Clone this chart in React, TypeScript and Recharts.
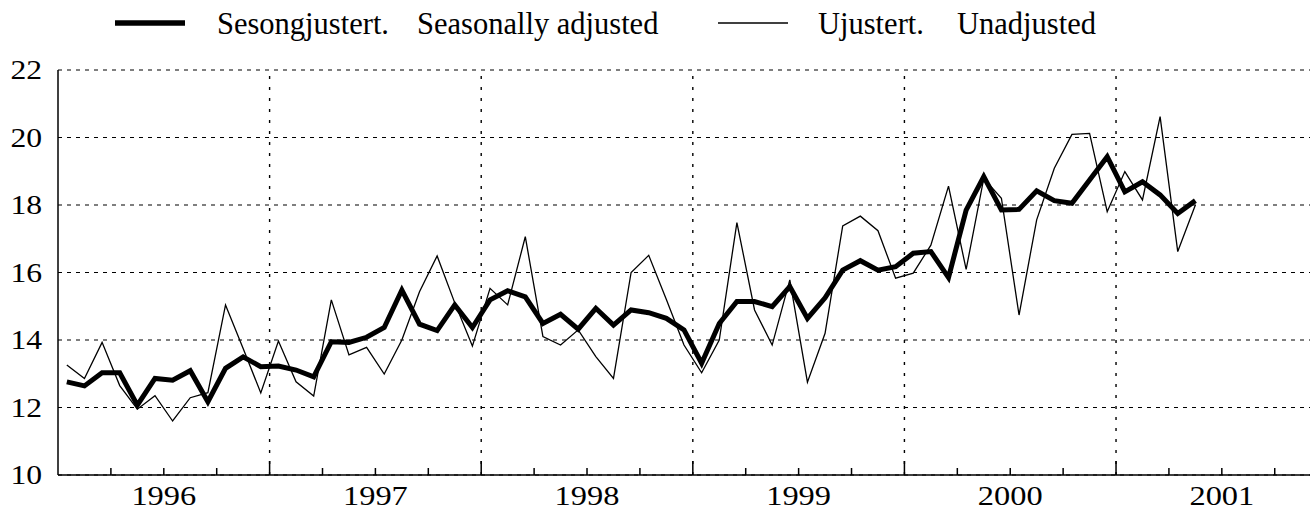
import React from 'react';
import { LineChart, Line, XAxis, YAxis, CartesianGrid, ReferenceLine } from 'recharts';

// Monthly values, January 1996 – May 2001
const seasonallyAdjusted = [
  12.76, 12.64, 13.03, 13.03, 12.07, 12.86, 12.81, 13.09, 12.17, 13.16, 13.5, 13.21,
  13.23, 13.11, 12.91, 13.95, 13.93, 14.08, 14.37, 15.48, 14.47, 14.28, 15.04, 14.37,
  15.19, 15.46, 15.28, 14.49, 14.76, 14.32, 14.94, 14.44, 14.89, 14.81, 14.64, 14.3,
  13.31, 14.49, 15.14, 15.14, 14.99, 15.58, 14.64, 15.25, 16.07, 16.35, 16.07, 16.17,
  16.57, 16.62, 15.85, 17.85, 18.84, 17.85, 17.87, 18.42, 18.13, 18.05, 18.74, 19.43,
  18.39, 18.69, 18.3, 17.75, 18.13,
];
const unadjusted = [
  13.26, 12.86, 13.93, 12.65, 11.95, 12.35, 11.6, 12.29, 12.44, 15.04, 13.75, 12.43,
  13.97, 12.76, 12.34, 15.19, 13.56, 13.78, 12.99, 14.0, 15.43, 16.49, 15.1, 13.82,
  15.53, 15.04, 17.06, 14.1, 13.85, 14.3, 13.51, 12.86, 16.0, 16.51, 15.2, 13.85,
  13.03, 14.0, 17.48, 14.89, 13.85, 15.78, 12.75, 14.2, 17.38, 17.67, 17.24, 15.83,
  15.98, 16.81, 18.56, 16.09, 18.79, 18.2, 14.74, 17.56, 19.09, 20.09, 20.12, 17.8,
  18.99, 18.15, 20.62, 16.62, 18.0,
];
const yearLabels = ['1996', '1997', '1998', '1999', '2000', '2001'];
const yTicks = [10, 12, 14, 16, 18, 20, 22];
const legendLabels = ['Sesongjustert.', 'Seasonally adjusted', 'Ujustert.', 'Unadjusted'];

const data = seasonallyAdjusted.map((v, i) => ({ m: i, sa: v, ua: unadjusted[i] }));

// quarterly ticks (month index, boundaries at half months)
const xTicks: number[] = [];
for (let k = 1; k < 24; k++) xTicks.push(-0.5 + 3 * k);
const yearBounds = [11.5, 23.5, 35.5, 47.5, 59.5];

const FONT = 'Liberation Serif, Times New Roman, Tinos, DejaVu Serif, serif';
const textStyle: React.CSSProperties = { fontFamily: FONT };

const XTick = (props: any) => {
  const { x, y, payload } = props;
  const v = payload.value as number;
  const major = Math.abs(((v + 0.5) % 12)) < 1e-6;
  const labelIdx = Math.round((v - 5.5) / 12);
  const isLabel = Math.abs(v - 5.5 - labelIdx * 12) < 1e-6;
  return (
    <g>
      <line x1={x} x2={x} y1={y} y2={y - (major ? 14 : 7)} stroke="#000" strokeWidth={1.5} />
      {isLabel && (
        <text
          transform={`translate(${x},${y + 30}) scale(1.2,1)`}
          x={0}
          y={0}
          textAnchor="middle"
          style={textStyle}
          fontSize={27}
          fill="#000"
        >
          {yearLabels[labelIdx]}
        </text>
      )}
    </g>
  );
};

const YTick = (props: any) => {
  const { x, y, payload } = props;
  return (
    <text
      transform={`translate(${x - 16},${y + 9}) scale(1.15,1)`}
      x={0}
      y={0}
      textAnchor="end"
      style={textStyle}
      fontSize={27.5}
      fill="#000"
    >
      {payload.value}
    </text>
  );
};

export default function App() {
  return (
    <div style={{ position: 'absolute', left: 0, top: 0, width: 1310, height: 509, background: '#fff' }}>
      <LineChart
        width={1310}
        height={509}
        data={data}
        margin={{ top: 70, right: 0, left: 0, bottom: 0 }}
      >
        <CartesianGrid vertical={false} stroke="#000" strokeWidth={1.2} strokeDasharray="4 5" />
        {yearBounds.map((b) => (
          <ReferenceLine key={b} x={b} stroke="#000" strokeWidth={1.4} strokeDasharray="3 8" />
        ))}
        <XAxis
          dataKey="m"
          type="number"
          domain={[-0.5, 70.5]}
          ticks={xTicks}
          interval={0}
          height={34}
          tickSize={0}
          tickMargin={0}
          tickLine={false}
          tick={<XTick />}
          axisLine={{ stroke: '#000', strokeWidth: 1.5 }}
          allowDataOverflow
        />
        <YAxis
          type="number"
          domain={[10, 22]}
          ticks={yTicks}
          interval={0}
          width={58}
          tickSize={0}
          tickMargin={0}
          tickLine={false}
          tick={<YTick />}
          axisLine={{ stroke: '#000', strokeWidth: 1.5 }}
        />
        <Line
          dataKey="ua"
          stroke="#000"
          strokeWidth={1.3}
          dot={false}
          isAnimationActive={false}
          type="linear"
        />
        <Line
          dataKey="sa"
          stroke="#000"
          strokeWidth={5}
          dot={false}
          isAnimationActive={false}
          type="linear"
        />
      </LineChart>
      <svg
        width={1310}
        height={50}
        style={{ position: 'absolute', left: 0, top: 0, pointerEvents: 'none' }}
      >
        <line x1={115} x2={185} y1={23} y2={23} stroke="#000" strokeWidth={5.5} />
        <text x={217} y={34} style={textStyle} fontSize={30.5} fill="#000">{legendLabels[0]}</text>
        <text x={417} y={34} style={textStyle} fontSize={30.5} fill="#000">{legendLabels[1]}</text>
        <line x1={718} x2={788} y1={23} y2={23} stroke="#000" strokeWidth={1.3} />
        <text x={818} y={34} style={textStyle} fontSize={30.5} fill="#000">{legendLabels[2]}</text>
        <text x={957} y={34} style={textStyle} fontSize={30.5} fill="#000">{legendLabels[3]}</text>
      </svg>
    </div>
  );
}
